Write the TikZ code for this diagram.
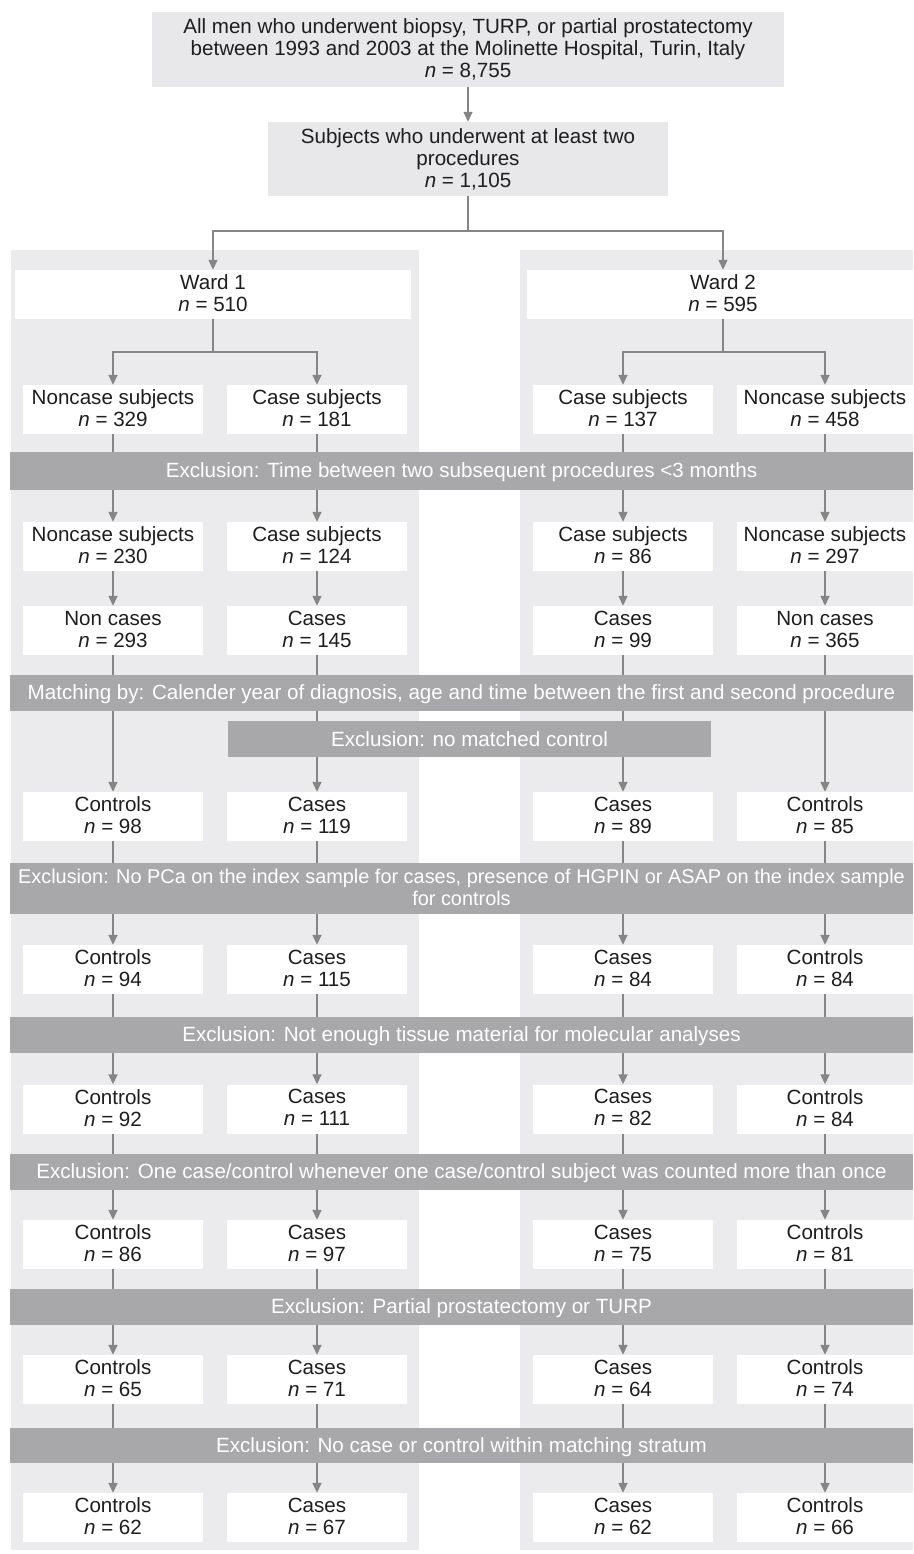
\documentclass[tikz,border=0pt]{standalone}
\usepackage{fontspec}
\setmainfont{Liberation Sans}
\usetikzlibrary{arrows.meta}
\definecolor{panelgray}{HTML}{EBEBED}
\definecolor{topgray}{HTML}{E8E8EA}
\definecolor{bangray}{HTML}{A8A8AA}
\definecolor{arrgray}{HTML}{858585}
\definecolor{txt}{HTML}{1E1E1E}
\pgfdeclarelayer{bg}
\pgfdeclarelayer{edges}
\pgfsetlayers{bg,edges,main}
\newcommand{\nn}{\textit{n}}
\newcommand{\topstrt}{\rule{0pt}{17.4pt}}
\newcommand{\botstrt}{\rule[-2.6pt]{0pt}{2.6pt}}
\begin{document}
\begin{tikzpicture}[x=1pt,y=-1pt,
  every node/.style={font=\fontsize{20.6}{22}\selectfont, text=txt, inner sep=0pt, align=center,
    execute at begin node={\topstrt}, execute at end node={\botstrt}},
  topbox/.style={fill=topgray, minimum width=#1, minimum height=75},
  wardbox/.style={fill=white, minimum width=#1, minimum height=49},
  cbox/.style={fill=white, minimum width=#1, minimum height=49},
  banner/.style={fill=bangray, text=white, minimum width=903, minimum height=#1},
  conn/.style={draw=arrgray, line width=1.5pt, -{Triangle[width=9pt,length=10pt]}}]
\useasboundingbox (0,0) rectangle (913,1554);
\begin{pgfonlayer}{bg}
\fill[white] (0,0) rectangle (913,1554);
\fill[panelgray] (11,250) rectangle (419,1550);
\fill[panelgray] (520,250) rectangle (913,1550);
\end{pgfonlayer}

% top part
\node[topbox=632] (top) at (468,49.5) {All men who underwent biopsy, TURP, or partial prostatectomy\\between 1993 and 2003 at the Molinette Hospital, Turin, Italy\\\nn{} = 8,755};
\node[topbox=400, minimum height=74] (sub) at (468,159) {Subjects who underwent at least two\\procedures\\\nn{} = 1,105};
\node[wardbox=396] (ward1) at (213,294.5) {Ward 1\\\nn{} = 510};
\node[wardbox=392] (ward2) at (723,294.5) {Ward 2\\\nn{} = 595};

% rows
\def\ra{409.5}\def\rb{546.5}\def\rc{630.5}\def\rd{816.5}\def\re{969.5}
\def\rf{1109}\def\rg{1244.5}\def\rh{1379.5}\def\ri{1517.5}
\node[cbox=180] (r1c1) at (113,\ra) {Noncase subjects\\\nn{} = 329};
\node[cbox=180] (r1c2) at (317,\ra) {Case subjects\\\nn{} = 181};
\node[cbox=180] (r1c3) at (623,\ra) {Case subjects\\\nn{} = 137};
\node[cbox=176] (r1c4) at (825,\ra) {Noncase subjects\\\nn{} = 458};

\node[banner=38] (b1) at (461.5,471) {Exclusion: Time between two subsequent procedures <3 months};

\node[cbox=180] (r2c1) at (113,\rb) {Noncase subjects\\\nn{} = 230};
\node[cbox=180] (r2c2) at (317,\rb) {Case subjects\\\nn{} = 124};
\node[cbox=180] (r2c3) at (623,\rb) {Case subjects\\\nn{} = 86};
\node[cbox=176] (r2c4) at (825,\rb) {Noncase subjects\\\nn{} = 297};

\node[cbox=180] (r3c1) at (113,\rc) {Non cases\\\nn{} = 293};
\node[cbox=180] (r3c2) at (317,\rc) {Cases\\\nn{} = 145};
\node[cbox=180] (r3c3) at (623,\rc) {Cases\\\nn{} = 99};
\node[cbox=176] (r3c4) at (825,\rc) {Non cases\\\nn{} = 365};

\node[banner=36] (b2) at (461.5,693) {Matching by: Calender year of diagnosis, age and time between the first and second procedure};
\node[fill=bangray, text=white, minimum width=483, minimum height=36] (nm) at (469.5,739) {Exclusion: no matched control};

\node[cbox=180] (r4c1) at (113,\rd) {Controls\\\nn{} = 98};
\node[cbox=180] (r4c2) at (317,\rd) {Cases\\\nn{} = 119};
\node[cbox=180] (r4c3) at (623,\rd) {Cases\\\nn{} = 89};
\node[cbox=176] (r4c4) at (825,\rd) {Controls\\\nn{} = 85};

\node[banner=51, font=\fontsize{19.9}{22}\selectfont] (b3) at (461.5,888.5) {Exclusion: No PCa on the index sample for cases, presence of HGPIN or ASAP on the index sample\\for controls};

\node[cbox=180] (r5c1) at (113,\re) {Controls\\\nn{} = 94};
\node[cbox=180] (r5c2) at (317,\re) {Cases\\\nn{} = 115};
\node[cbox=180] (r5c3) at (623,\re) {Cases\\\nn{} = 84};
\node[cbox=176] (r5c4) at (825,\re) {Controls\\\nn{} = 84};

\node[banner=36] (b4) at (461.5,1035) {Exclusion: Not enough tissue material for molecular analyses};

\node[cbox=180] (r6c1) at (113,\rf) {Controls\\\nn{} = 92};
\node[cbox=180] (r6c2) at (317,\rf) {Cases\\\nn{} = 111};
\node[cbox=180] (r6c3) at (623,\rf) {Cases\\\nn{} = 82};
\node[cbox=176] (r6c4) at (825,\rf) {Controls\\\nn{} = 84};

\node[banner=36] (b5) at (461.5,1172) {Exclusion: One case/control whenever one case/control subject was counted more than once};

\node[cbox=180] (r7c1) at (113,\rg) {Controls\\\nn{} = 86};
\node[cbox=180] (r7c2) at (317,\rg) {Cases\\\nn{} = 97};
\node[cbox=180] (r7c3) at (623,\rg) {Cases\\\nn{} = 75};
\node[cbox=176] (r7c4) at (825,\rg) {Controls\\\nn{} = 81};

\node[banner=36] (b6) at (461.5,1307) {Exclusion: Partial prostatectomy or TURP};

\node[cbox=180] (r8c1) at (113,\rh) {Controls\\\nn{} = 65};
\node[cbox=180] (r8c2) at (317,\rh) {Cases\\\nn{} = 71};
\node[cbox=180] (r8c3) at (623,\rh) {Cases\\\nn{} = 64};
\node[cbox=176] (r8c4) at (825,\rh) {Controls\\\nn{} = 74};

\node[banner=35] (b7) at (461.5,1445.5) {Exclusion: No case or control within matching stratum};

\node[cbox=180] (r9c1) at (113,\ri) {Controls\\\nn{} = 62};
\node[cbox=180] (r9c2) at (317,\ri) {Cases\\\nn{} = 67};
\node[cbox=180] (r9c3) at (623,\ri) {Cases\\\nn{} = 62};
\node[cbox=176] (r9c4) at (825,\ri) {Controls\\\nn{} = 66};

\begin{pgfonlayer}{edges}
\draw[conn] (top) -- (sub);
\draw[conn] (sub.south) -- ++(0,35) -| (ward1.north);
\draw[conn] (sub.south) -- ++(0,35) -| (ward2.north);
\draw[conn] (ward1.south) -- ++(0,33) -| (r1c1.north);
\draw[conn] (ward1.south) -- ++(0,33) -| (r1c2.north);
\draw[conn] (ward2.south) -- ++(0,33) -| (r1c3.north);
\draw[conn] (ward2.south) -- ++(0,33) -| (r1c4.north);
\foreach \c in {1,2,3,4}{
  \foreach \a/\b in {1/2,2/3,3/4,4/5,5/6,6/7,7/8,8/9}{
    \draw[conn] (r\a c\c) -- (r\b c\c);
  }
}
\end{pgfonlayer}
\end{tikzpicture}
\end{document}
